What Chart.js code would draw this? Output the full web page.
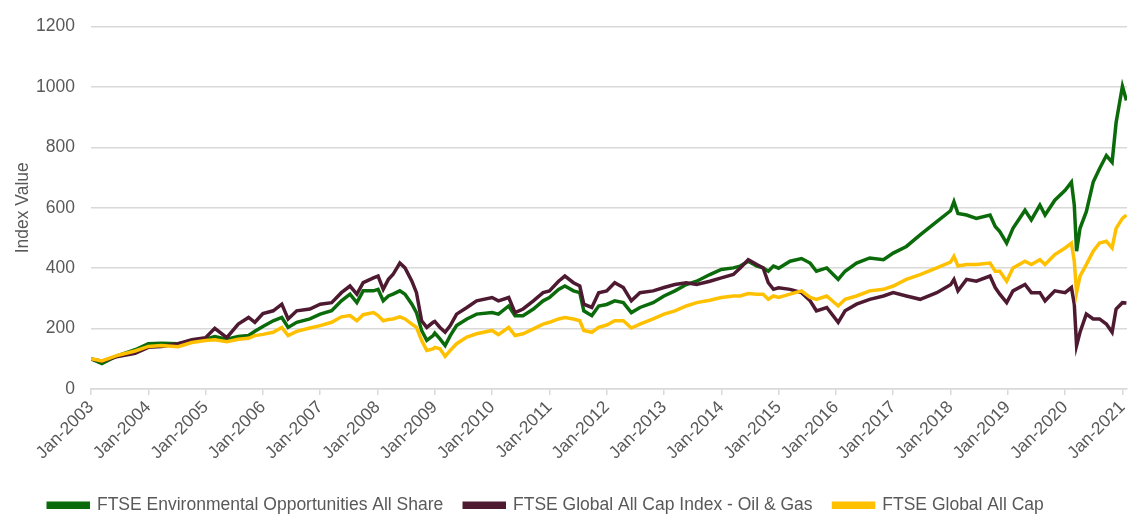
<!DOCTYPE html>
<html>
<head>
<meta charset="utf-8">
<script src="https://cdn.jsdelivr.net/npm/chart.js@4"></script>
<style>
  body { margin: 0; background: #fff; }
  #wrap { width: 1128px; height: 514px; position: relative; }
</style>
</head>
<body>
<div id="wrap"><canvas id="myChart"></canvas></div>
<script>
// dates as fractional years
const dates = [
  2003.00, 2003.19, 2003.47, 2003.77, 2004.00, 2004.23, 2004.52, 2004.76, 2005.00, 2005.16,
  2005.37, 2005.57, 2005.75, 2005.86, 2006.00, 2006.18, 2006.33, 2006.44, 2006.59, 2006.82,
  2007.00, 2007.20, 2007.37, 2007.52, 2007.64, 2007.75, 2007.93, 2008.01, 2008.10, 2008.19,
  2008.27, 2008.39, 2008.48, 2008.60, 2008.68, 2008.77, 2008.86, 2008.97, 2009.00, 2009.09,
  2009.18, 2009.27, 2009.38, 2009.56, 2009.73, 2010.00, 2010.11, 2010.29, 2010.40, 2010.54,
  2010.72, 2010.89, 2011.00, 2011.16, 2011.27, 2011.42, 2011.53, 2011.60, 2011.74, 2011.86,
  2012.00, 2012.14, 2012.29, 2012.43, 2012.58, 2012.81, 2013.00, 2013.19, 2013.39, 2013.57,
  2013.80, 2014.00, 2014.21, 2014.33, 2014.47, 2014.62, 2014.73, 2014.82, 2014.91, 2015.00,
  2015.20, 2015.40, 2015.55, 2015.66, 2015.84, 2016.04, 2016.16, 2016.36, 2016.59, 2016.83,
  2017.00, 2017.23, 2017.47, 2017.76, 2018.00, 2018.06, 2018.13, 2018.28, 2018.45, 2018.69,
  2018.78, 2018.86, 2018.98, 2019.09, 2019.30, 2019.41, 2019.56, 2019.65, 2019.82, 2020.00,
  2020.11, 2020.16, 2020.20, 2020.26, 2020.37, 2020.49, 2020.60, 2020.72, 2020.82, 2020.89,
  2021.00, 2021.07
]

const envOpps = [
  100, 84, 111, 130, 150, 152, 150, 158, 165, 174,
  165, 174, 177, 191, 207, 226, 237, 204, 221, 232,
  248, 259, 292, 314, 286, 325, 325, 330, 292, 308,
  314, 325, 314, 281, 253, 194, 161, 177, 185, 166,
  144, 177, 210, 232, 248, 253, 248, 275, 243, 243,
  265, 292, 303, 330, 341, 325, 319, 259, 243, 275,
  280, 292, 286, 253, 270, 286, 308, 325, 346, 357,
  379, 396, 401, 407, 423, 407, 401, 390, 407, 400,
  423, 432, 417, 390, 401, 363, 390, 417, 434, 428,
  450, 472, 510, 554, 590, 620, 581, 576, 565, 576,
  538, 521, 483, 532, 592, 560, 609, 576, 625, 658,
  685, 609, 456, 532, 587, 685, 729, 773, 751, 882,
  1002, 955
]

const oilGas = [
  100, 92, 108, 118, 138, 141, 150, 163, 170, 201,
  170, 215, 237, 221, 250, 259, 281, 232, 259, 265,
  281, 286, 319, 341, 314, 352, 368, 374, 330, 363,
  379, 417, 401, 357, 319, 226, 204, 221, 224, 204,
  188, 210, 248, 270, 292, 303, 292, 303, 253, 265,
  292, 319, 325, 357, 374, 352, 341, 281, 270, 319,
  325, 352, 336, 292, 319, 325, 336, 346, 352, 346,
  357, 368, 379, 401, 428, 412, 401, 352, 330, 335,
  330, 319, 292, 259, 270, 221, 259, 281, 297, 308,
  319, 308, 297, 319, 345, 363, 325, 363, 357, 374,
  336, 314, 286, 325, 346, 319, 319, 292, 325, 319,
  336, 281, 144, 188, 248, 232, 232, 215, 188, 265,
  286, 285
]

const globalAllCap = [
  100, 93, 112, 126, 141, 144, 140, 154, 161, 163,
  157, 165, 168, 177, 181, 188, 204, 177, 191, 202,
  210, 221, 239, 243, 226, 246, 253, 243, 226, 230,
  232, 239, 232, 215, 204, 161, 128, 133, 138, 133,
  108, 128, 150, 172, 183, 194, 180, 204, 177, 183,
  199, 215, 221, 232, 237, 232, 226, 194, 188, 204,
  212, 226, 226, 202, 215, 232, 248, 259, 275, 286,
  294, 303, 308, 308, 316, 314, 314, 297, 308, 303,
  314, 325, 303, 297, 308, 275, 297, 308, 325, 330,
  341, 363, 379, 401, 420, 439, 407, 412, 412, 417,
  390, 390, 357, 401, 423, 412, 428, 412, 445, 467,
  483, 423, 319, 374, 412, 456, 483, 489, 467, 532,
  565, 576
]

const seriesNames = [
  'FTSE Environmental Opportunities All Share',
  'FTSE Global All Cap Index - Oil & Gas',
  'FTSE Global All Cap',
]

const tickYears = [2003, 2004, 2005, 2006, 2007, 2008, 2009, 2010, 2011, 2012,
  2013, 2014, 2015, 2016, 2017, 2018, 2019, 2020, 2021]
const tickLabels = ['Jan-2003', 'Jan-2004', 'Jan-2005', 'Jan-2006', 'Jan-2007',
  'Jan-2008', 'Jan-2009', 'Jan-2010', 'Jan-2011', 'Jan-2012', 'Jan-2013',
  'Jan-2014', 'Jan-2015', 'Jan-2016', 'Jan-2017', 'Jan-2018', 'Jan-2019',
  'Jan-2020', 'Jan-2021']

const colors = ['#0b6b0b', '#4e1a31', '#ffc000']
const textColor = '#595959'
const gridColor = '#d9d9d9'
const font = { family: '"Liberation Sans", Arial, sans-serif', size: 17.5 }

function makeSeries(values) {
  return values.map((v, i) => ({ x: dates[i], y: v }))
}

const datasets = [envOpps, oilGas, globalAllCap].map((values, i) => ({
  label: seriesNames[i],
  data: makeSeries(values),
  borderColor: colors[i],
  backgroundColor: colors[i],
  borderWidth: 3.5,
  pointRadius: 0,
  tension: 0,
  order: 3 - i, // last series drawn on top, like the original
}))

// nudge the legend a bit lower and left, closer to where the original sits
const legendNudge = {
  id: 'legendNudge',
  afterLayout(chart) {
    const lg = chart.legend
    lg.top += 10
    lg.bottom += 10
    lg.left -= 22
    lg.right -= 22
  },
}

const ctx = document.getElementById('myChart').getContext('2d')
new Chart(ctx, {
  type: 'line',
  data: { datasets },
  plugins: [legendNudge],
  options: {
    responsive: true,
    maintainAspectRatio: false,
    animation: false,
    layout: { padding: { top: 14, right: 1, left: 9, bottom: 0 } },
    plugins: {
      tooltip: { enabled: false },
      legend: {
        position: 'bottom',
        labels: {
          font,
          color: textColor,
          boxWidth: 40,
          boxHeight: 4,
          padding: 21,
          sort: (a, b) => a.datasetIndex - b.datasetIndex,
        },
      },
    },
    scales: {
      x: {
        type: 'linear',
        min: 2003,
        max: 2021.08,
        afterBuildTicks: scale => {
          scale.ticks = tickYears.map(v => ({ value: v }))
        },
        afterFit: scale => {
          scale.paddingLeft = 0
          scale.paddingRight = 0
        },
        ticks: {
          font,
          color: textColor,
          minRotation: 45,
          maxRotation: 45,
          padding: 2,
          callback: (value, index) => tickLabels[index],
        },
        grid: {
          drawOnChartArea: false,
          drawTicks: true,
          tickLength: 6,
          color: gridColor,
          lineWidth: 1.5,
        },
        border: { display: true, color: gridColor, width: 1.5 },
      },
      y: {
        min: 0,
        max: 1200,
        afterFit: scale => {
          scale.width = 82
        },
        ticks: { stepSize: 200, font, color: textColor, padding: 16, callback: v => String(v) },
        grid: { color: gridColor, lineWidth: 1.5, drawTicks: false },
        border: { display: false },
        title: { display: true, text: 'Index Value', font, color: textColor, padding: 4 },
      },
    },
  },
})
</script>
</body>
</html>
